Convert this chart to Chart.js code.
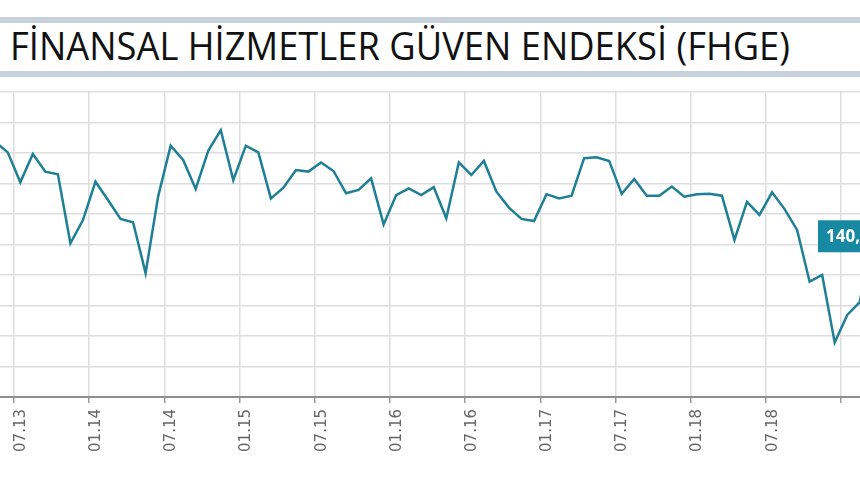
<!DOCTYPE html>
<html>
<head>
<meta charset="utf-8">
<script src="https://cdn.jsdelivr.net/npm/chart.js@4.4.1/dist/chart.umd.min.js"></script>
<style>
  html, body { margin: 0; padding: 0; background: #fff; }
  body { width: 860px; height: 480px; position: relative; overflow: hidden; }
  .bar { position: absolute; left: 0; width: 860px; background: #c8d0db; }
  #bar1 { top: 17px; height: 6px; }
  #bar2 { top: 71px; height: 6px; }
  #title {
    position: absolute; left: 10px; top: 26px;
    font-family: "Open Sans", sans-serif; font-size: 38px; line-height: 38px;
    color: #111; white-space: nowrap; transform-origin: 0 0;
  }
  #wrap { position: absolute; left: 0; top: 80px; width: 860px; height: 400px; }
</style>
</head>
<body>
<div class="bar" id="bar1"></div>
<div id="title">FİNANSAL HİZMETLER GÜVEN ENDEKSİ (FHGE)</div>
<div class="bar" id="bar2"></div>
<div id="wrap"><canvas id="FHGE" width="860" height="400"></canvas></div>
<script>
// monthly readings, MM.YY; first and last fall just outside the crop
var months = [
  '05.13','06.13','07.13','08.13','09.13','10.13','11.13','12.13',
  '01.14','02.14','03.14','04.14','05.14','06.14','07.14','08.14','09.14','10.14','11.14','12.14',
  '01.15','02.15','03.15','04.15','05.15','06.15','07.15','08.15','09.15','10.15','11.15','12.15',
  '01.16','02.16','03.16','04.16','05.16','06.16','07.16','08.16','09.16','10.16','11.16','12.16',
  '01.17','02.17','03.17','04.17','05.17','06.17','07.17','08.17','09.17','10.17','11.17','12.17',
  '01.18','02.18','03.18','04.18','05.18','06.18','07.18','08.18','09.18','10.18','11.18','12.18',
  '01.19','02.19','03.19'
];
var values = [
  171.2, 167.7, 157.9, 167.2, 161.4, 160.5, 137.9, 145.5,
  158.1, 152.1, 145.9, 144.8, 128.1, 153.2, 169.9, 165.2, 155.7, 168.2, 175.0, 158.6,
  169.9, 167.7, 152.6, 156.1, 161.9, 161.4, 164.4, 161.6, 154.3, 155.4, 159.2, 144.1,
  153.7, 155.9, 153.7, 156.3, 146.1, 164.4, 160.3, 164.9, 154.8, 149.6, 145.9, 145.2,
  154.0, 152.6, 153.5, 165.8, 166.1, 164.9, 154.1, 159.0, 153.5, 153.5, 156.5, 153.2,
  154.0, 154.1, 153.5, 139.0, 151.5, 147.2, 154.6, 149.1, 142.3, 125.3, 127.5, 105.4,
  114.4, 118.6, 140.2
];
var tickLabels = ['07.13','01.14','07.14','01.15','07.15','01.16','07.16','01.17','07.17','01.18','07.18','01.19'];

// month index counted from 01.2013
function monthIndex(s) {
  var p = s.split('.');
  return (parseInt(p[1], 10) - 13) * 12 + parseInt(p[0], 10) - 1;
}

var points = months.map(function(m, i) { return { x: monthIndex(m) + 0.5, y: values[i] }; });
var tickPos = tickLabels.map(monthIndex);

var X_MIN = 4.88, X_MAX = 73.52;
var Y_MIN = 87.5, Y_MAX = 187.5, Y_STEP = 10;

var lastLabel = {
  id: 'lastLabel',
  afterDatasetsDraw: function(chart) {
    var ctx = chart.ctx, y = chart.scales.y, area = chart.chartArea;
    var v = values[values.length - 1];
    var py = y.getPixelForValue(v);
    ctx.save();
    ctx.fillStyle = '#1789a3';
    ctx.fillRect(area.right - 42, py - 16, 80, 32);
    ctx.fillStyle = '#ffffff';
    ctx.font = 'bold 17px "Open Sans"';
    ctx.textBaseline = 'middle';
    ctx.fillText(v.toFixed(1).replace('.', ','), area.right - 34, py + 1);
    ctx.restore();
  }
};

var ctx1 = document.getElementById('FHGE').getContext('2d');
new Chart(ctx1, {
  type: 'line',
  data: {
    datasets: [{
      data: points,
      borderColor: '#1e7f95',
      borderWidth: 2.5,
      pointRadius: 0,
      tension: 0,
      fill: false
    }]
  },
  options: {
    responsive: false,
    animation: false,
    layout: { padding: { top: 12, left: 0, right: 0, bottom: 0 } },
    scales: {
      x: {
        type: 'linear',
        min: X_MIN,
        max: X_MAX,
        afterBuildTicks: function(s) { s.ticks = tickPos.map(function(v) { return { value: v }; }); },
        afterFit: function(s) { s.height = 83; s.paddingLeft = 0; s.paddingRight = 0; },
        ticks: {
          autoSkip: false,
          minRotation: 90,
          maxRotation: 90,
          labelOffset: 7,
          padding: 6,
          color: '#666',
          font: { family: 'DejaVu Sans', size: 15 },
          // the last label is cut off in the source picture
          callback: function(v, i) { return i === tickLabels.length - 1 ? '' : tickLabels[i]; }
        },
        grid: { color: '#dedede', lineWidth: 1.5, tickLength: 6, tickColor: '#999' },
        border: { color: '#8f8f8f', width: 2 }
      },
      y: {
        min: Y_MIN,
        max: Y_MAX,
        afterBuildTicks: function(s) {
          var t = [];
          for (var v = Y_MIN; v <= Y_MAX + 0.01; v += Y_STEP) t.push({ value: v });
          s.ticks = t;
        },
        afterFit: function(s) { s.width = 0; },
        ticks: { display: false },
        grid: { color: '#dedede', lineWidth: 1.5, drawTicks: false },
        border: { display: false }
      }
    },
    plugins: {
      legend: { display: false },
      tooltip: { enabled: false }
    }
  },
  plugins: [lastLabel]
});

// stretch the title to the width it has in the source
var t = document.getElementById('title');
var w = t.getBoundingClientRect().width;
t.style.transform = 'scaleX(' + (780 / w) + ')';
</script>
</body>
</html>
